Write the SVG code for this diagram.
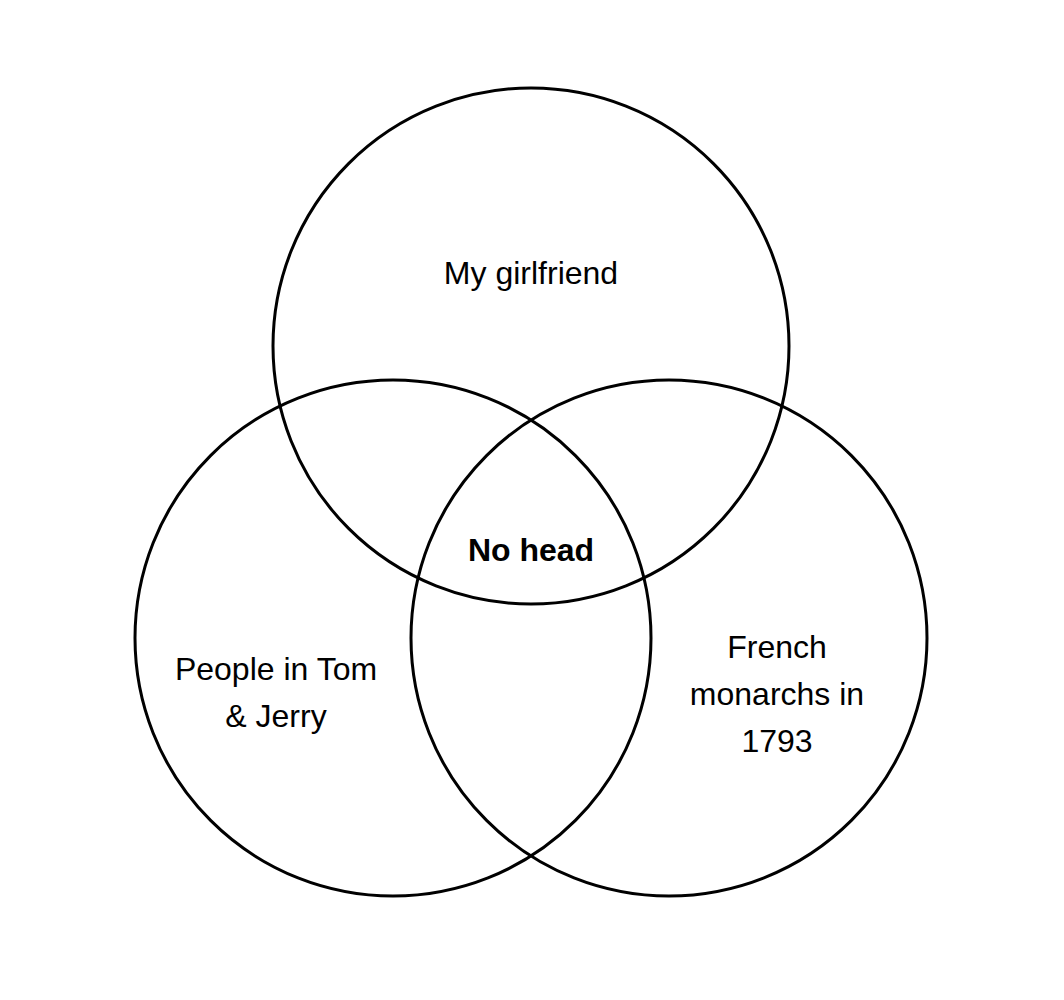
<svg xmlns="http://www.w3.org/2000/svg" width="1064" height="1000" viewBox="0 0 1064 1000">
<style>
.c{fill:none;stroke:#000;stroke-width:3}
.t{font-family:"Liberation Sans",Arial,sans-serif;font-size:32px;text-anchor:middle;fill:#000}
.b{font-weight:bold}
</style>
<rect width="1064" height="1000" fill="#fff"/>
<g id="top"><circle class="c" cx="531" cy="346" r="258"/><text class="t" x="531" y="284">My girlfriend</text></g>
<g id="left"><circle class="c" cx="393" cy="638" r="258"/><text class="t" x="276" y="680">People in Tom</text><text class="t" x="276" y="727">&amp; Jerry</text></g>
<g id="right"><circle class="c" cx="669" cy="638" r="258"/><text class="t" x="777" y="658">French</text><text class="t" x="777" y="705">monarchs in</text><text class="t" x="777" y="752">1793</text></g>
<g id="center"><text class="t b" x="531" y="561">No head</text></g>
<g id="connectors"/>
</svg>
